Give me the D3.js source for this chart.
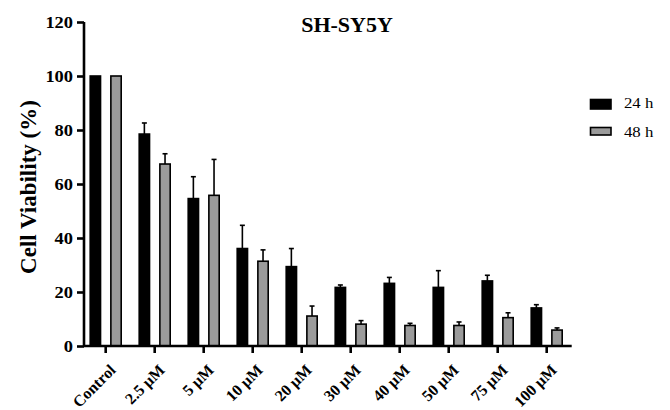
<!DOCTYPE html>
<html><head><meta charset="utf-8">
<script src="https://cdn.jsdelivr.net/npm/d3@7"></script>
<style>body{margin:0;background:#fff}svg{display:block}</style>
</head><body><svg id="c" width="670" height="410" font-family="Liberation Serif"></svg>
<script>
const categories = ["Control","2.5 µM","5 µM","10 µM","20 µM","30 µM","40 µM","50 µM","75 µM","100 µM"];
const series = ["24 h","48 h"];
const values24 = [100, 78.5, 54.6, 36.1, 29.4, 21.7, 23.2, 21.7, 24.1, 14.1];
const errors24 = [0, 4.1, 8.1, 8.6, 6.7, 0.9, 2.2, 6.2, 2.1, 1.2];
const values48 = [100, 67.4, 55.8, 31.4, 11.1, 8.1, 7.6, 7.6, 10.5, 5.9];
const errors48 = [0, 3.8, 13.3, 4.2, 3.7, 1.3, 0.8, 1.3, 1.8, 0.8];
const yTicks = [0, 20, 40, 60, 80, 100, 120];
const colors = ["#000000", "#9b9b9b"];
const FONT = "Liberation Serif";

const svg = d3.select("#c");
const y = d3.scaleLinear().domain([0,120]).range([346,22]);
const x = d3.scaleBand().domain(categories).range([81.2,571.2]).padding(0);
const sub = d3.scaleBand().domain(series).range([-15.5,15.5]).paddingInner(0.5).paddingOuter(0);

const data = [];
categories.forEach((c,i)=>{
  data.push({c, s:series[0], v:values24[i], e:errors24[i], col:colors[0]});
  data.push({c, s:series[1], v:values48[i], e:errors48[i], col:colors[1]});
});

svg.append("g").selectAll("rect").data(data).join("rect")
  .attr("x", d=> x(d.c)+x.bandwidth()/2+sub(d.s))
  .attr("y", d=> y(d.v))
  .attr("width", sub.bandwidth())
  .attr("height", d=> y(0)-y(d.v))
  .attr("fill", d=>d.col).attr("stroke","#000").attr("stroke-width",1.6);

const eg = svg.append("g").attr("stroke","#000").attr("stroke-width",1.6);
data.filter(d=>d.e>0).forEach(d=>{
  const cx = x(d.c)+x.bandwidth()/2+sub(d.s)+sub.bandwidth()/2;
  eg.append("line").attr("x1",cx).attr("x2",cx).attr("y1",y(d.v)).attr("y2",y(d.v+d.e));
  eg.append("line").attr("x1",cx-2.5).attr("x2",cx+2.5).attr("y1",y(d.v+d.e)).attr("y2",y(d.v+d.e));
});

const ya = svg.append("g").attr("transform","translate(84,0)")
  .call(d3.axisLeft(y).tickValues(yTicks).tickSize(7).tickPadding(4).tickFormat(d3.format("d")));
ya.attr("font-family",FONT);
ya.select(".domain").attr("stroke-width",2.6).attr("d","M0,346V22");
ya.selectAll(".tick line").attr("stroke-width",2.6);
ya.selectAll("text").style("font-family",FONT).attr("font-size",16).attr("font-weight","bold").attr("fill","#000")
  .attr("transform","translate(-11,0) scale(1.15,1) translate(11,0)");

const xa = svg.append("g").attr("transform","translate(0,346)")
  .call(d3.axisBottom(x).tickSize(7).tickSizeOuter(0));
xa.attr("font-family",FONT);
xa.select(".domain").attr("stroke-width",2.6).attr("d","M84,0H571.7");
xa.selectAll(".tick line").attr("stroke-width",2.6);
xa.selectAll("text").style("font-family",FONT).attr("font-size",16).attr("font-weight","bold").attr("fill","#000")
  .attr("text-anchor","end").attr("dy",0).attr("y",0).attr("x",0)
  .attr("transform","translate(11,25) rotate(-45)");

svg.append("text").style("font-family",FONT).attr("x",347).attr("y",32).attr("text-anchor","middle")
  .attr("font-size",22).attr("font-weight","bold").text("SH-SY5Y");

svg.append("text").style("font-family",FONT).attr("transform","translate(36,187) rotate(-90)").attr("text-anchor","middle")
  .attr("font-size",23).attr("font-weight","bold").text("Cell Viability (%)");

const lg = svg.append("g");
series.forEach((s,i)=>{
  lg.append("rect").attr("x",590.5).attr("y",99.5+i*28).attr("width",20.5).attr("height",i?7.5:9.5)
    .attr("fill",colors[i]).attr("stroke","#000").attr("stroke-width",1.6);
  lg.append("text").style("font-family",FONT).attr("x",624).attr("y",108.5+i*28.2).attr("font-size",15)
    .attr("transform",`translate(624,0) scale(1.12,1) translate(-624,0)`).text(s);
});
</script></body></html>
